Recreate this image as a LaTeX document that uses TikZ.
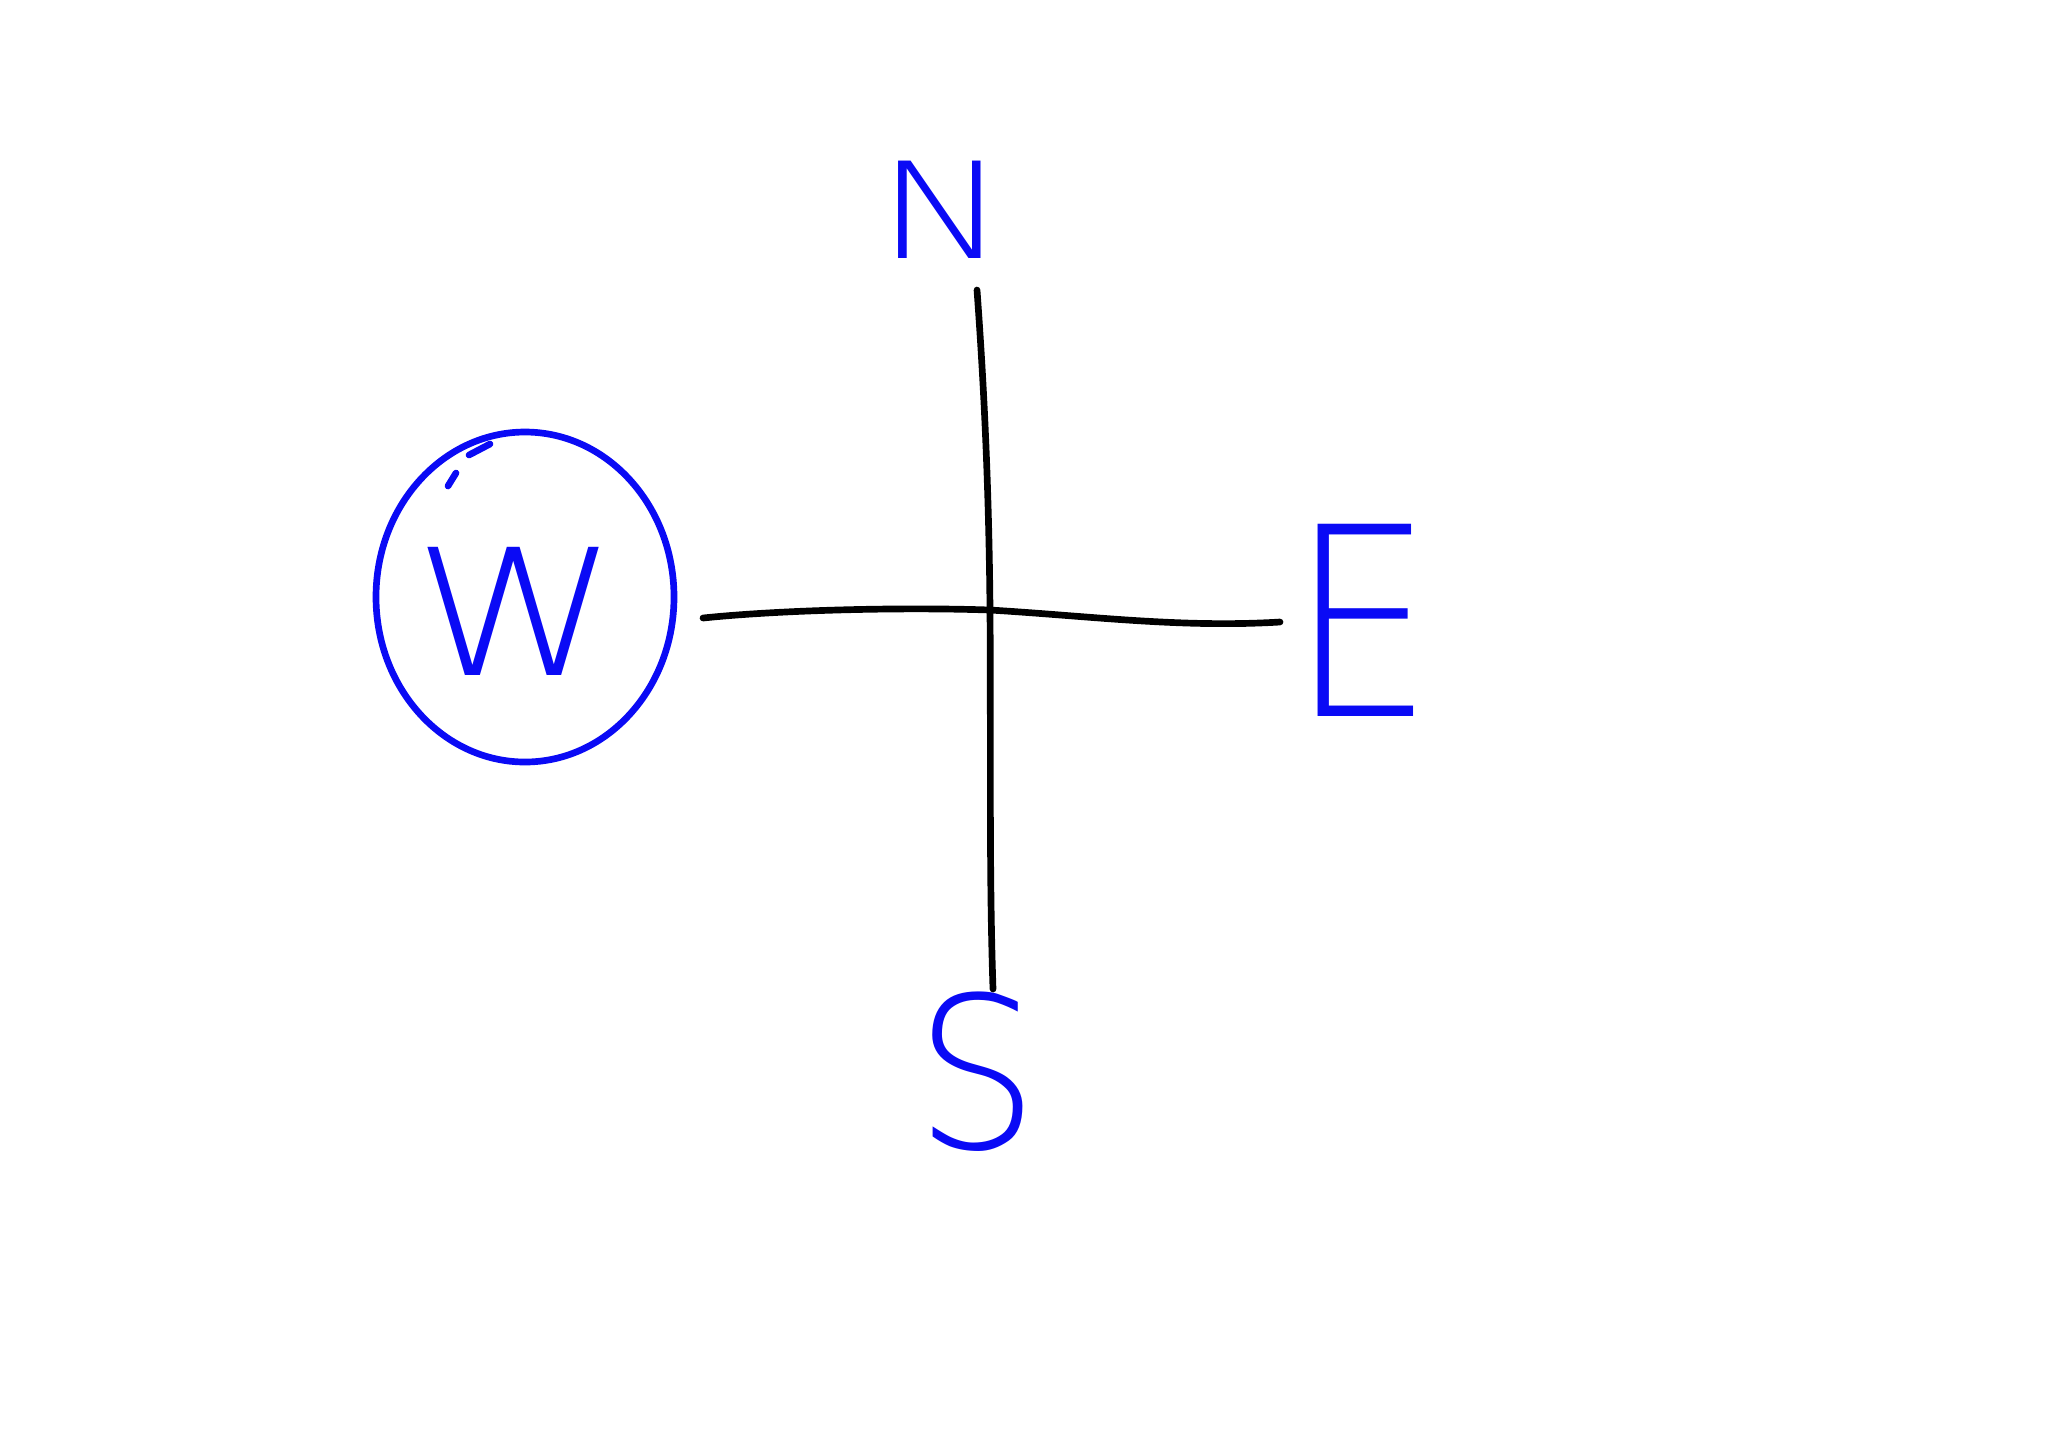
\documentclass[tikz,border=0pt]{standalone}
\usepackage{fontspec}
\setmainfont{Liberation Sans}
\newfontfamily\thinfont{DejaVu Sans ExtraLight}
\definecolor{pen}{RGB}{10,10,245}
\begin{document}
\begin{tikzpicture}[x=0.01cm,y=-0.01cm,
  ink/.style={line width=1.9pt,line cap=round,line join=round},
  letter/.style={text=pen,inner sep=0pt,font=\thinfont\fontsize{#1}{#1}\selectfont}]
\useasboundingbox[fill=white] (0,0) rectangle (2048,1447);
% letters
\node[letter=38pt,xscale=1.3] (N) at (942,210) {N};
\node[letter=75pt,xscale=0.86] (E) at (1362,620) {E};
\node[letter=60pt,xscale=0.92] (S) at (977,1072) {S};
\node[letter=50pt,xscale=1.18] (W) at (516,611) {W};
% circle round W
\draw[ink,draw=pen] (525,597) ellipse [x radius=149,y radius=165];
\draw[ink,draw=pen] (448,486) -- (456,473);
\draw[ink,draw=pen] (469,455) -- (490,444);
% cross
\coordinate (c) at (990,610);
\coordinate (ntop) at (977,290);
\coordinate (sbot) at (993,989);
\coordinate (wend) at (703,618);
\coordinate (eend) at (1280,622);
\draw[ink] (ntop) .. controls (985,400) and (989,500) .. (c)
  .. controls (991,750) and (989,870) .. (sbot);
\draw[ink] (wend) .. controls (780,610) and (900,607) .. (c)
  .. controls (1090,616) and (1180,628) .. (eend);
\end{tikzpicture}
\end{document}
